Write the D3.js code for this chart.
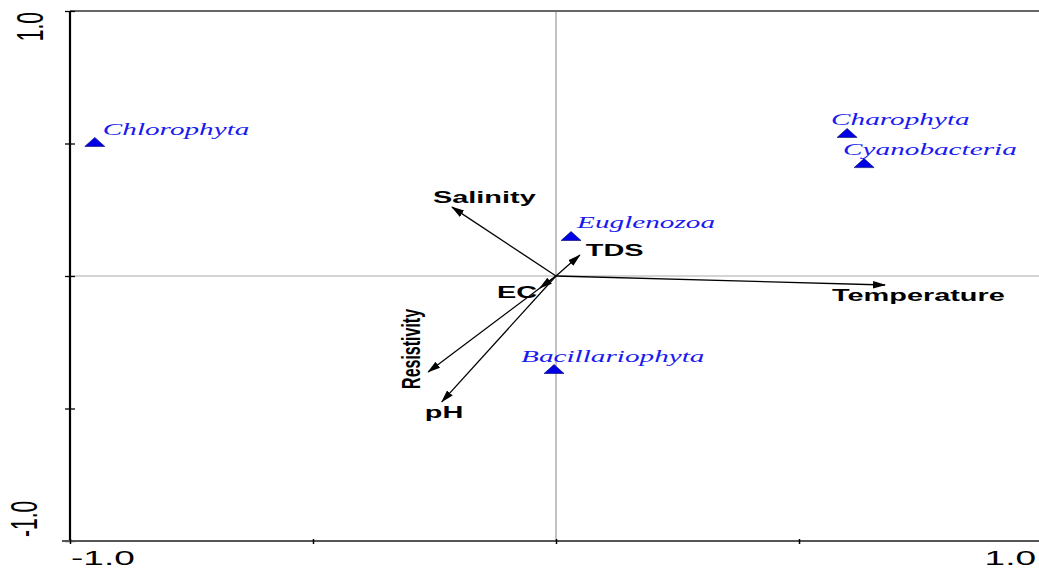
<!DOCTYPE html>
<html>
<head>
<meta charset="utf-8">
<script src="https://cdn.jsdelivr.net/npm/d3@7"></script>
<style>
  html, body { margin: 0; padding: 0; background: #fff; }
  svg { display: block; }
</style>
</head>
<body>
<svg id="chart" width="1039" height="570"></svg>
<script>
// ---- data ----
const species = ["Chlorophyta", "Charophyta", "Cyanobacteria", "Euglenozoa", "Bacillariophyta"];
const speciesX = [-0.949, 0.599, 0.634, 0.031, -0.004];
const speciesY = [0.506, 0.540, 0.426, 0.151, -0.351];

const envVars = ["Salinity", "TDS", "EC", "Resistivity", "pH", "Temperature"];
const envX = [-0.214, 0.049, -0.033, -0.263, -0.235, 0.677];
const envY = [0.260, 0.079, -0.045, -0.362, -0.475, -0.034];

const tickValues = [-1, -0.5, 0, 0.5, 1];
const tickLabels = ["-1.0", "1.0"];

// ---- layout / style (not data) ----
const W = 1039, H = 570;
const plotLeft = 70, plotTop = 11, plotBottom = 541, plotRightEnd = 1042;
const STRETCH_BOLD = 1.7;
const STRETCH_ITALIC = 1.67;
const STRETCH_ROT = 1.6;
const TICK_STRETCH = 1.75;
const BOTTOM_TICK_STRETCH = 1.85;
// label offsets for species (start, baseline) relative to symbol
const speciesLabelOffset = [[8, -7], [-16, -8], [-21, -8], [6, -8], [-33, -7]];
// env label placement relative to arrow tip: [dx, dy, rotated]
const envLabelOffset = [[-19, -4], [6, 1], [-43, 10], [-8, -23, true], [-17, 16], [-53, 16]];

const svg = d3.select("#chart");
const x = d3.scaleLinear().domain([-1, 1]).range([plotLeft, plotRightEnd]);
const y = d3.scaleLinear().domain([-1, 1]).range([plotBottom, plotTop]);

// center lines
svg.append("line")
  .attr("x1", x(0)).attr("x2", x(0)).attr("y1", y(1)).attr("y2", y(-1))
  .attr("stroke", "#9a9a9a").attr("stroke-width", 1.2);
svg.append("line")
  .attr("x1", x(-1)).attr("x2", W).attr("y1", y(0)).attr("y2", y(0))
  .attr("stroke", "#aaaaaa").attr("stroke-width", 1.2);

// top border
svg.append("line")
  .attr("x1", x(-1)).attr("x2", W).attr("y1", y(1)).attr("y2", y(1))
  .attr("stroke", "#666").attr("stroke-width", 2);

// left axis
const yAxis = d3.axisLeft(y).tickValues(tickValues).tickSize(5).tickFormat("");
const gy = svg.append("g").attr("transform", `translate(${plotLeft},0)`).call(yAxis);
gy.select(".domain").attr("stroke", "#000").attr("stroke-width", 2.2).attr("d", `M0,${plotTop}V${plotBottom}`);
gy.selectAll(".tick line").attr("x1", 5).attr("x2", -5).attr("stroke", "#000").attr("stroke-width", 1.3);

// bottom axis
const xAxis = d3.axisBottom(x).tickValues(tickValues).tickSize(3).tickFormat("");
const gx = svg.append("g").attr("transform", `translate(0,${plotBottom})`).call(xAxis);
gx.select(".domain").attr("stroke", "#555").attr("stroke-width", 2).attr("d", `M${plotLeft - 8},0H${W}`);
gx.selectAll(".tick line").attr("y1", -2).attr("y2", 3).attr("stroke", "#000").attr("stroke-width", 1.5);

// tick labels
const tickFont = "'Liberation Sans', Arial, sans-serif";
// bottom
svg.append("text").text(tickLabels[0])
  .attr("transform", `translate(${x(-1) + 1},${565}) scale(${BOTTOM_TICK_STRETCH},1)`)
  .attr("text-anchor", "start").attr("font-family", tickFont).attr("font-size", 20).attr("fill", "#000");
svg.append("text").text(tickLabels[1])
  .attr("transform", `translate(${W - 3},${565}) scale(${BOTTOM_TICK_STRETCH},1)`)
  .attr("text-anchor", "end").attr("font-family", tickFont).attr("font-size", 20).attr("fill", "#000");
// left (rotated)
svg.append("text").text(tickLabels[1])
  .attr("transform", `translate(43,${y(1) + 1}) scale(${TICK_STRETCH},1) rotate(-90)`)
  .attr("text-anchor", "end").attr("font-family", tickFont).attr("font-size", 21).attr("fill", "#000");
svg.append("text").text(tickLabels[0])
  .attr("transform", `translate(37,${y(-1) - 4}) scale(${TICK_STRETCH},1) rotate(-90)`)
  .attr("text-anchor", "start").attr("font-family", tickFont).attr("font-size", 21).attr("fill", "#000");

// arrow marker
svg.append("defs").append("marker")
  .attr("id", "arrow").attr("markerUnits", "userSpaceOnUse")
  .attr("markerWidth", 14).attr("markerHeight", 10)
  .attr("viewBox", "0 -5 14 10").attr("refX", 12).attr("refY", 0)
  .attr("orient", "auto")
  .append("path").attr("d", "M0,-3.8L13,0L0,3.8Z").attr("fill", "#000");

// env arrows
const envData = envVars.map((n, i) => ({ name: n, x: envX[i], y: envY[i], off: envLabelOffset[i] }));
svg.append("g").selectAll("line").data(envData).join("line")
  .attr("x1", x(0)).attr("y1", y(0))
  .attr("x2", d => x(d.x)).attr("y2", d => y(d.y))
  .attr("stroke", "#000").attr("stroke-width", 1.3)
  .attr("marker-end", "url(#arrow)");

const labelFont = "'Liberation Sans', Arial, sans-serif";
svg.append("g").selectAll("text").data(envData).join("text")
  .text(d => d.name)
  .attr("transform", d => {
    const px = x(d.x) + d.off[0], py = y(d.y) + d.off[1];
    return d.off[2]
      ? `translate(${px},${py}) scale(${STRETCH_ROT},1) rotate(-90)`
      : `translate(${px},${py}) scale(${STRETCH_BOLD},1)`;
  })
  .attr("text-anchor", d => d.off[2] ? "middle" : "start")
  .attr("font-family", labelFont).attr("font-weight", "bold")
  .attr("font-size", d => d.off[2] ? 16 : 17)
  .attr("fill", "#000");

// species triangles
const spData = species.map((n, i) => ({ name: n, x: speciesX[i], y: speciesY[i], off: speciesLabelOffset[i] }));
svg.append("g").selectAll("path").data(spData).join("path")
  .attr("transform", d => `translate(${x(d.x)},${y(d.y)})`)
  .attr("d", "M-10,4.5L0,-4.5L10,4.5Z")
  .attr("fill", "#0000e6").attr("stroke", "#000066").attr("stroke-width", 0.6);

svg.append("g").selectAll("text").data(spData).join("text")
  .text(d => d.name)
  .attr("transform", d => `translate(${x(d.x) + d.off[0]},${y(d.y) + d.off[1]}) scale(${STRETCH_ITALIC},1)`)
  .attr("font-family", "'Liberation Serif', 'Times New Roman', serif")
  .attr("font-style", "italic").attr("font-size", 17.5)
  .attr("fill", "#1a1aee");
</script>
</body>
</html>
